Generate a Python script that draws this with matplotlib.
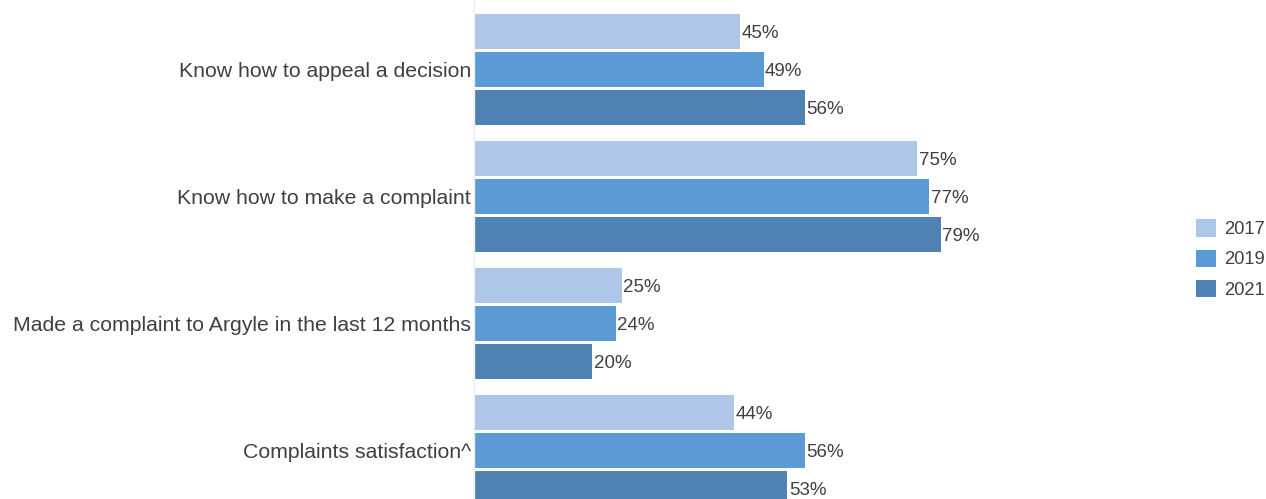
import numpy as np
import matplotlib.pyplot as plt
from matplotlib.patches import Patch

plt.rcParams['font.family'] = ['Liberation Sans', 'DejaVu Sans']

# Data
categories = ['Know how to appeal a decision', 'Know how to make a complaint',
              'Made a complaint to Argyle in the last 12 months', 'Complaints satisfaction^']
years = ['2017', '2019', '2021']
v2017 = [45, 75, 25, 44]
v2019 = [49, 77, 24, 56]
v2021 = [56, 79, 20, 53]
colors = ['#aec7e8', '#5b9bd5', '#4f81b3']

W, H = 1266, 499
fig = plt.figure(figsize=(W / 100, H / 100), dpi=100)
ax = fig.add_axes([474 / W, 0, (1065 - 474) / W, 1])

y = np.arange(len(categories))
offset = 0.3
height = 0.276
for i, (vals, c) in enumerate(zip([v2017, v2019, v2021], colors)):
    pos = y + (i - 1) * offset
    ax.barh(pos, vals, height=height, color=c, edgecolor='none')
    for p, v in zip(pos, vals):
        ax.text(v + 0.25, p, f'{v}%', va='center_baseline', ha='left', fontsize=13.5, color='#404040')

ax.set_xlim(0, 100)
ax.set_ylim(3.382, -0.547)
ax.set_yticks(y)
ax.set_yticklabels(categories, fontsize=15.3, color='#404040')
ax.tick_params(axis='y', length=0, pad=2)
ax.set_xticks([])
for s in ['top', 'right', 'bottom']:
    ax.spines[s].set_visible(False)
ax.spines['left'].set_color('#eeeeee')
ax.spines['left'].set_linewidth(1)

handles = [Patch(facecolor=c, edgecolor='none', label=yr) for c, yr in zip(colors, years)]
fig.legend(handles=handles, loc='center left', bbox_to_anchor=(1196 / W, 1 - 259 / H),
           frameon=False, fontsize=13.2, handlelength=1.09, handleheight=1.09,
           labelspacing=0.62, handletextpad=0.45, borderpad=0, borderaxespad=0,
           labelcolor='#404040')

fig.savefig('out.png', dpi=100)
